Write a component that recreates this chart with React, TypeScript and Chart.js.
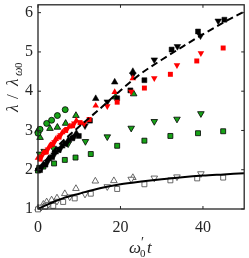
import React, { useEffect, useRef } from "react";
import { Chart, registerables } from "chart.js";

Chart.register(...registerables);

type P = { x: number; y: number };
const pts = (a: number[][]): P[] => a.map(([x, y]) => ({ x, y }));

const xTicks = [0, 20, 40];
const yTicks = [1, 2, 3, 4, 5, 6];

const dashedFit = [[0, 2.0], [5, 2.62], [10, 3.1], [15, 3.55], [20, 4.02], [25, 4.45], [30, 4.8], [35, 5.13], [40, 5.45], [45, 5.75], [50, 6.03]];
const solidFit = [[0, 1.0], [2, 1.1], [4, 1.19], [6, 1.27], [10, 1.39], [15, 1.53], [20, 1.63], [25, 1.7], [30, 1.76], [35, 1.81], [40, 1.85], [45, 1.88], [50, 1.91]];

const blackUp = [[0, 2.02], [1.3, 2.14], [2.6, 2.28], [4.2, 2.45], [5.8, 2.6], [7.4, 2.76], [9.3, 2.93], [14, 3.81], [18.6, 4.23], [23, 4.5]];
const blackSq = [[0.5, 1.99], [1.8, 2.13], [3.4, 2.32], [5, 2.5], [6.6, 2.66], [8.3, 2.8], [9.9, 2.86], [12.6, 3.25], [19.2, 3.82], [22.4, 4.02], [25.8, 4.28], [32.4, 5.06], [38.8, 5.52], [45.2, 5.82]];
const blackDown = [[0.9, 2.06], [2.3, 2.2], [3.9, 2.38], [5.4, 2.53], [7, 2.68], [8.8, 2.84], [11.4, 3.12], [16.8, 3.73], [23, 4.42], [28.2, 4.8], [33.8, 5.14], [39.4, 5.41], [43.7, 5.79]];

const redUp = [[0, 2.3], [1.3, 2.43], [2.8, 2.6], [4.3, 2.78], [5.9, 2.95], [7.6, 3.1], [9.3, 3.25], [14, 3.63], [18.6, 3.98], [23, 4.33]];
const redSq = [[0.5, 2.27], [2, 2.45], [3.5, 2.65], [5.1, 2.83], [6.7, 3.0], [8.4, 3.12], [10.2, 3.2], [12.4, 3.28], [19.2, 3.72], [25.8, 4.08], [32.1, 4.43], [38.5, 4.77], [44.9, 5.1]];
const redDown = [[0.9, 2.34], [2.4, 2.52], [4, 2.7], [5.5, 2.88], [7.1, 3.04], [8.8, 3.18], [11.2, 3.18], [16.8, 3.62], [22.6, 3.99], [28.2, 4.33], [33.7, 4.66], [39.5, 4.97]];

const greenCircle = [[0, 2.93], [0.5, 3.03], [2.1, 3.18], [3.3, 3.26], [4.7, 3.38], [6.6, 3.53]];
const greenUp = [[0, 3.0], [0.5, 2.82], [2.9, 3.05], [4.7, 3.08], [6.7, 3.18], [9.2, 3.38], [18.8, 3.85], [23.2, 3.93]];
const greenDown = [[0.4, 2.4], [1.5, 2.47], [3.7, 2.55], [7.3, 2.66], [11.5, 2.72], [16.8, 2.84], [22.6, 3.06], [28.2, 3.23], [33.7, 3.29], [39.5, 3.43]];
const greenSq = [[0, 1.98], [0.3, 2.05], [1.3, 2.08], [3.9, 2.16], [6.5, 2.25], [9.1, 2.31], [12.8, 2.4], [19.2, 2.61], [25.8, 2.74], [32.1, 2.86], [38.8, 2.93], [44.9, 2.98]];

const whiteUp = [[0, 1.02], [1.3, 1.12], [2.1, 1.18], [3.3, 1.23], [4.6, 1.28], [6.5, 1.39], [9.2, 1.52], [13.9, 1.71], [18.4, 1.72], [23, 1.8]];
const whiteDown = [[0.8, 1.05], [2.6, 1.12], [4.6, 1.2], [7.7, 1.31], [11.4, 1.38], [16.8, 1.57], [22.6, 1.76], [28.2, 1.79], [33.7, 1.82], [39.5, 1.9]];
const whiteSq = [[0, 0.99], [1.7, 1.06], [3.7, 1.08], [6.1, 1.18], [8.9, 1.27], [12.8, 1.39], [19.2, 1.51], [25.8, 1.63], [32.1, 1.73], [38.6, 1.78], [44.9, 1.8]];

const GREEN = "#17a317";
const RED = "#ff0000";
const AXIS = "#262626";
const SERIF = "'Liberation Serif', 'Times New Roman', serif";

function marker(data: number[][], shape: string, fill: string, edge: string, bw: number) {
  const isTri = shape === "up" || shape === "down";
  return {
    data: pts(data),
    showLine: false,
    pointStyle: shape === "sq" ? "rect" : shape === "circle" ? "circle" : "triangle",
    rotation: shape === "down" ? 180 : 0,
    pointRadius: isTri ? 3.8 : shape === "sq" ? 3.5 : 3,
    backgroundColor: fill,
    borderColor: edge,
    pointBorderWidth: bw,
    clip: false as const,
  };
}

const framePlugin = {
  id: "frame",
  afterDraw(chart: any) {
    const { ctx, chartArea: a, scales } = chart;
    ctx.save();
    ctx.strokeStyle = AXIS;
    ctx.lineWidth = 1.3;
    ctx.strokeRect(a.left, a.top, a.right - a.left, a.bottom - a.top);
    ctx.lineWidth = 1;
    const tl = 3;
    ctx.beginPath();
    for (const v of xTicks) {
      const x = scales.x.getPixelForValue(v);
      ctx.moveTo(x, a.bottom); ctx.lineTo(x, a.bottom - tl);
      ctx.moveTo(x, a.top); ctx.lineTo(x, a.top + tl);
    }
    for (const v of yTicks) {
      const y = scales.y.getPixelForValue(v);
      ctx.moveTo(a.left, y); ctx.lineTo(a.left + tl, y);
      ctx.moveTo(a.right, y); ctx.lineTo(a.right - tl, y);
    }
    ctx.stroke();

    ctx.fillStyle = AXIS;
    ctx.textBaseline = "alphabetic";
    ctx.textAlign = "left";
    // x title: ω'0 t
    ctx.font = `italic 17px ${SERIF}`;
    ctx.fillText("ω", 129, 253);
    ctx.font = `14px ${SERIF}`;
    ctx.fillText("′", 141, 247);
    ctx.font = `11px ${SERIF}`;
    ctx.fillText("0", 140, 257);
    ctx.font = `italic 17px ${SERIF}`;
    ctx.fillText("t", 147, 253);

    // y title: λ/λ_{ω0}
    ctx.translate(18, 112);
    ctx.rotate(-Math.PI / 2);
    ctx.font = `italic 17px ${SERIF}`;
    ctx.fillText("λ", 0, 0);
    ctx.font = `17px ${SERIF}`;
    ctx.fillText("/", 13, 0);
    ctx.font = `italic 17px ${SERIF}`;
    ctx.fillText("λ", 26, 0);
    ctx.font = `italic 12px ${SERIF}`;
    ctx.fillText("ω", 36, 4);
    ctx.font = `11px ${SERIF}`;
    ctx.fillText("0", 44, 4);
    ctx.restore();
  },
};

export default function App() {
  const ref = useRef<HTMLCanvasElement | null>(null);
  useEffect(() => {
    document.body.style.margin = "0";
    const canvas = ref.current;
    if (!canvas) return;
    const chart = new Chart(canvas, {
      type: "scatter",
      data: {
        datasets: [
          {
            data: pts(dashedFit), showLine: true, pointRadius: 0, borderColor: "#000", borderWidth: 2,
            borderDash: [7, 4], cubicInterpolationMode: "monotone", fill: false,
          } as any,
          {
            data: pts(solidFit), showLine: true, pointRadius: 0, borderColor: "#000", borderWidth: 2,
            cubicInterpolationMode: "monotone", fill: false,
          } as any,
          marker(redDown, "down", RED, RED, 0),
          marker(redSq, "sq", RED, RED, 0),
          marker(redUp, "up", RED, RED, 0),
          marker(blackDown, "down", "#000", "#000", 0.5),
          marker(blackSq, "sq", "#000", "#000", 0.5),
          marker(blackUp, "up", "#000", "#000", 0.5),
          marker(greenCircle, "circle", GREEN, "#000", 0.8),
          marker(greenUp, "up", GREEN, "#000", 0.8),
          marker(greenDown, "down", GREEN, "#000", 0.8),
          marker(greenSq, "sq", GREEN, "#000", 0.8),
          marker(whiteDown, "down", "#fff", "#444", 0.8),
          marker(whiteSq, "sq", "#fff", "#444", 0.8),
          marker(whiteUp, "up", "#fff", "#444", 0.8),
        ],
      },
      options: {
        animation: false,
        responsive: false,
        devicePixelRatio: 1,
        layout: { padding: { top: 1, right: 2, left: 0, bottom: 0 } },
        plugins: { legend: { display: false }, tooltip: { enabled: false } },
        scales: {
          x: {
            type: "linear",
            min: 0,
            max: 50,
            grid: { display: false, drawTicks: false },
            border: { display: false },
            ticks: {
              stepSize: 20,
              includeBounds: false,
              padding: 9,
              color: AXIS,
              font: { family: SERIF, size: 16 },
              maxRotation: 0,
            },
            afterFit: (s: any) => { s.height = 49; s.paddingLeft = 0; s.paddingRight = 0; },
          },
          y: {
            type: "linear",
            min: 1,
            max: 6.2,
            grid: { display: false, drawTicks: false },
            border: { display: false },
            ticks: {
              stepSize: 1,
              includeBounds: false,
              padding: 5,
              color: AXIS,
              font: { family: SERIF, size: 16 },
            },
            afterFit: (s: any) => { s.width = 38; s.paddingTop = 0; s.paddingBottom = 0; },
          },
        },
      },
      plugins: [framePlugin],
    });
    return () => chart.destroy();
  }, []);
  return (
    <div style={{ position: "fixed", left: 0, top: 0, width: 249, height: 258, background: "#fff" }}>
      <canvas ref={ref} width={249} height={258} style={{ width: 249, height: 258, display: "block" }} />
    </div>
  );
}
